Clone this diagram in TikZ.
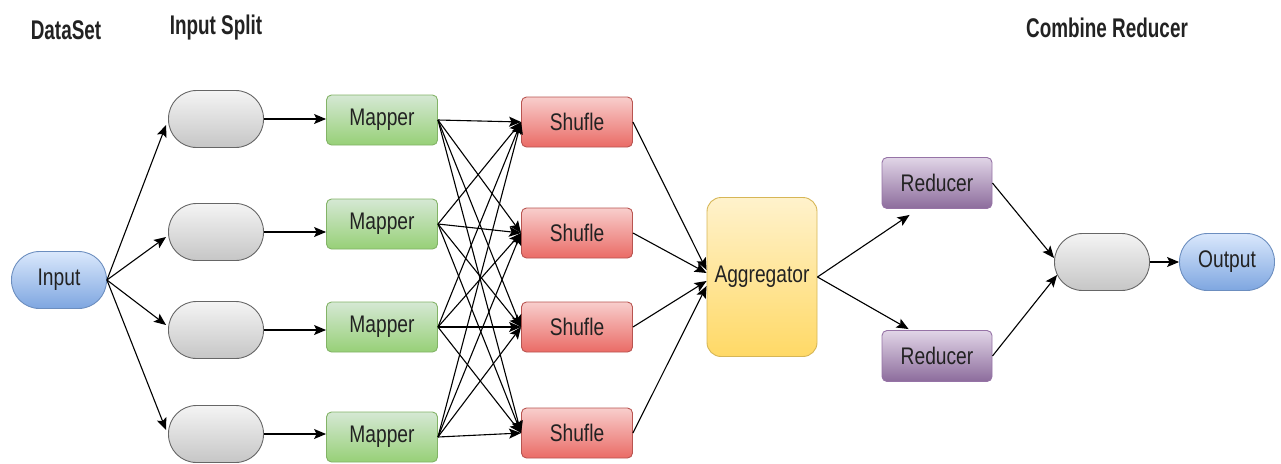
\documentclass[tikz,border=0pt]{standalone}
\usepackage{fontspec}
\newfontfamily\lblfont{Liberation Sans}[FakeStretch=0.8]
\newfontfamily\ttlfont{Liberation Sans}[FakeStretch=0.7]
\usetikzlibrary{arrows.meta,calc}

\definecolor{grayTop}{HTML}{F4F4F4}
\definecolor{grayBot}{HTML}{C6C6C6}
\definecolor{grayLine}{HTML}{666666}
\definecolor{blueTop}{HTML}{DAE8FC}
\definecolor{blueBot}{HTML}{7EA6E0}
\definecolor{blueLine}{HTML}{6C8EBF}
\definecolor{greenTop}{HTML}{D5E8D4}
\definecolor{greenBot}{HTML}{97D077}
\definecolor{greenLine}{HTML}{82B366}
\definecolor{redTop}{HTML}{F8CECC}
\definecolor{redBot}{HTML}{EA6B66}
\definecolor{redLine}{HTML}{B85450}
\definecolor{purpleTop}{HTML}{E1D5E7}
\definecolor{purpleBot}{HTML}{8C6C9C}
\definecolor{purpleLine}{HTML}{9673A6}
\definecolor{yellowTop}{HTML}{FFF2CC}
\definecolor{yellowBot}{HTML}{FFD966}
\definecolor{yellowLine}{HTML}{D6B656}
\definecolor{txt}{HTML}{222222}

\tikzset{
  box/.style={draw, line width=0.9pt, inner sep=0pt, text=txt,
    font=\lblfont\fontsize{24}{28}\selectfont},
  pill/.style={box, minimum width=95pt, minimum height=57pt, rounded corners=28pt},
  graypill/.style={pill, draw=grayLine, top color=grayTop, bottom color=grayBot},
  bluepill/.style={pill, draw=blueLine, top color=blueTop, bottom color=blueBot},
  mapbox/.style={box, draw=greenLine, top color=greenTop, bottom color=greenBot,
    minimum width=111pt, minimum height=50pt, rounded corners=5pt},
  shufbox/.style={box, draw=redLine, top color=redTop, bottom color=redBot,
    minimum width=111pt, minimum height=50pt, rounded corners=5pt},
  redbox/.style={box, draw=purpleLine, top color=purpleTop, bottom color=purpleBot,
    minimum width=110pt, minimum height=51pt, rounded corners=5pt},
  aggbox/.style={box, draw=yellowLine, top color=yellowTop, bottom color=yellowBot,
    minimum width=110pt, minimum height=159pt, rounded corners=14pt},
  ttl/.style={text=txt, inner sep=0pt, font=\ttlfont\bfseries\fontsize{27}{31}\selectfont},
  link/.style={draw=black, line width=1.1pt,
    -{Stealth[length=12pt, width=10pt, inset=2.5pt]}},
}

\begin{document}
\begin{tikzpicture}[x=1pt, y=-1pt]
  \useasboundingbox (0,0) rectangle (1281,463);

  % column titles
  \node[ttl] (tData)  at (66,30)   {DataSet};
  \node[ttl] (tSplit) at (216,28)  {Input Split};
  \node[ttl] (tComb)  at (1107,28) {Combine Reducer};

  % input and splits
  \node[bluepill] (in) at (59,280) {Input};
  \node[graypill] (s1) at (216,119) {};
  \node[graypill] (s2) at (216,232) {};
  \node[graypill] (s3) at (216,330) {};
  \node[graypill] (s4) at (216,434) {};

  % mappers
  \node[mapbox] (m1) at (382,120) {Mapper};
  \node[mapbox] (m2) at (382,224) {Mapper};
  \node[mapbox] (m3) at (382,327) {Mapper};
  \node[mapbox] (m4) at (382,437) {Mapper};

  % shuffles
  \node[shufbox] (h1) at (577,122) {Shufle};
  \node[shufbox] (h2) at (577,233) {Shufle};
  \node[shufbox] (h3) at (577,327) {Shufle};
  \node[shufbox] (h4) at (577,433) {Shufle};

  % aggregation and reduction
  \node[aggbox] (agg) at (762,277) {Aggregator};
  \node[redbox] (r1) at (937,183) {Reducer};
  \node[redbox] (r2) at (937,356) {Reducer};
  \node[graypill] (fp) at (1102,262) {};
  \node[bluepill] (out) at (1227,262) {Output};

  % input -> splits, each landing on the left end of its split
  \coordinate (e1) at ($(s1.west)+(-2,6)$);
  \coordinate (e2) at ($(s2.west)+(-2,5)$);
  \coordinate (e3) at ($(s3.west)+(-2,-5)$);
  \coordinate (e4) at ($(s4.west)+(-2,-4)$);
  \foreach \i in {1,...,4} \draw[link] (in.east) -- (e\i);

  % splits -> mappers
  \foreach \i in {1,...,4} \draw[link] (s\i.east) -- (s\i.east -| m\i.west);

  % mappers -> shuffles (all to all)
  \foreach \i in {1,...,4}
    \foreach \j in {1,...,4}
      \draw[link] (m\i.east) -- (h\j.west);

  % shuffles -> aggregator
  \coordinate (a1) at ($(agg.west)+(0,-7)$);
  \coordinate (a2) at ($(agg.west)+(0,-4)$);
  \coordinate (a3) at ($(agg.west)+(0,4)$);
  \coordinate (a4) at ($(agg.west)+(0,9)$);
  \foreach \i in {1,...,4} \draw[link] (h\i.east) -- (a\i);

  % aggregator -> reducers
  \coordinate (r1in) at ($(r1.south west)+(28,6)$);
  \coordinate (r2in) at ($(r2.north west)+(27,-1)$);
  \draw[link] (agg.east) -- (r1in);
  \draw[link] (agg.east) -- (r2in);

  % reducers -> combine -> output
  \coordinate (f1) at ($(fp.west)+(0,-4)$);
  \coordinate (f2) at ($(fp.west)+(3,13)$);
  \draw[link] (r1.east) -- (f1);
  \draw[link] (r2.east) -- (f2);
  \draw[link] (fp.east) -- (out.west);
\end{tikzpicture}
\end{document}
